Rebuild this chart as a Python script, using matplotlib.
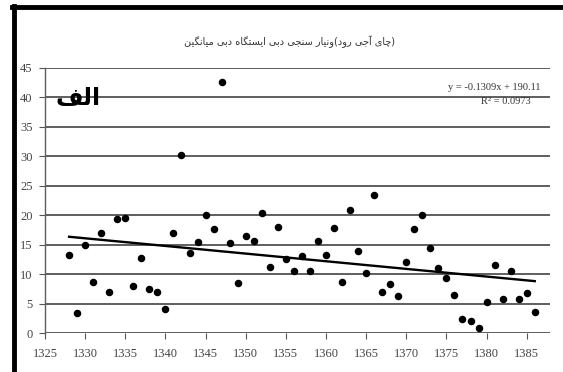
import numpy as np
import matplotlib
matplotlib.use("Agg")
import matplotlib.pyplot as plt
from matplotlib.lines import Line2D

# ---------------- data ----------------
years = list(range(1328, 1387))
flow = [13.2, 3.4, 14.9, 8.6, 16.9, 6.9, 19.4, 19.6, 8.0, 12.7,
        7.5, 7.0, 4.1, 16.9, 30.3, 13.6, 15.4, 20.1, 17.7, 42.7,
        15.2, 8.5, 16.4, 15.6, 20.3, 11.2, 18.0, 12.5, 10.6, 13.1,
        10.6, 15.6, 13.3, 17.9, 8.7, 20.9, 13.9, 10.2, 23.5, 7.0,
        8.3, 6.3, 12.1, 17.6, 20.1, 14.4, 11.0, 9.4, 6.5, 2.4,
        2.1, 0.8, 5.2, 11.5, 5.7, 10.5, 5.8, 6.8, 3.5]
x_ticks = list(range(1325, 1390, 5))
x_tick_labels = [str(t) for t in x_ticks]
y_ticks = list(range(0, 50, 5))
y_tick_labels = [str(t) for t in y_ticks]
title_text = "میانگین دبی ایستگاه دبی سنجی ونیار(رود آجی چای)"
panel_label = "الف"
eq_text = "y = -0.1309x + 190.11"
r2_text = "R² = 0.0973"

# ---------------- minimal Arabic/Persian shaping ----------------
# matplotlib lays glyphs out left to right without shaping, so each word is
# converted to its contextual presentation forms and put in visual order.
FORMS = {
    'ا': ('\uFE8D', '\uFE8E', None, None),
    'آ': ('\uFE81', '\uFE82', None, None),
    'ب': ('\uFE8F', '\uFE90', '\uFE91', '\uFE92'),
    'ت': ('\uFE95', '\uFE96', '\uFE97', '\uFE98'),
    'ج': ('\uFE9D', '\uFE9E', '\uFE9F', '\uFEA0'),
    'چ': ('\uFB7A', '\uFB7B', '\uFB7C', '\uFB7D'),
    'د': ('\uFEA9', '\uFEAA', None, None),
    'ر': ('\uFEAD', '\uFEAE', None, None),
    'س': ('\uFEB1', '\uFEB2', '\uFEB3', '\uFEB4'),
    'ف': ('\uFED1', '\uFED2', '\uFED3', '\uFED4'),
    'گ': ('\uFB92', '\uFB93', '\uFB94', '\uFB95'),
    'ل': ('\uFEDD', '\uFEDE', '\uFEDF', '\uFEE0'),
    'م': ('\uFEE1', '\uFEE2', '\uFEE3', '\uFEE4'),
    'ن': ('\uFEE5', '\uFEE6', '\uFEE7', '\uFEE8'),
    'ه': ('\uFEE9', '\uFEEA', '\uFEEB', '\uFEEC'),
    'و': ('\uFEED', '\uFEEE', None, None),
    'ی': ('\uFBFC', '\uFBFD', '\uFBFE', '\uFBFF'),
}


def shape_word(w):
    out = []
    for i, c in enumerate(w):
        if c not in FORMS:
            out.append(c)
            continue
        prev_j = i > 0 and w[i - 1] in FORMS and FORMS[w[i - 1]][2] is not None
        next_j = (i + 1 < len(w) and w[i + 1] in FORMS and FORMS[c][2] is not None)
        iso, fin, ini, med = FORMS[c]
        if prev_j and next_j:
            out.append(med)
        elif prev_j:
            out.append(fin)
        elif next_j:
            out.append(ini)
        else:
            out.append(iso)
    return ''.join(reversed(out))


def shape_runs(s):
    # each word right-to-left, words kept left-to-right as in the reference
    res, cur = [], ''
    for c in s:
        if c in FORMS:
            cur += c
        else:
            if cur:
                res.append(shape_word(cur))
                cur = ''
            res.append(c)
    if cur:
        res.append(shape_word(cur))
    return ''.join(res)


# ---------------- figure ----------------
fig = plt.figure(figsize=(5.63, 3.72), dpi=100)
fig.patch.set_facecolor('white')
ax = fig.add_axes([45 / 563, 39 / 372, (550 - 45) / 563, (333 - 68) / 372])

ax.set_xlim(1325, 1387.9)
ax.set_ylim(0, 45)

for yv in y_ticks:
    ax.axhline(yv, color='#5e5e5e', lw=1.4, zorder=1)

ax.plot(years, flow, 'o', color='black', markersize=4.4, zorder=3)

coef = np.polyfit(years, flow, 1)
xfit = np.array([years[0], years[-1]])
ax.plot(xfit, np.polyval(coef, xfit), color='black', lw=1.7, zorder=2)

for s in ['top', 'right', 'bottom']:
    ax.spines[s].set_visible(False)
ax.spines['left'].set_color('#5e5e5e')
ax.spines['left'].set_linewidth(1.0)

ax.set_xticks(x_ticks)
ax.set_xticklabels(x_tick_labels)
ax.set_yticks(y_ticks)
ax.set_yticklabels(y_tick_labels)
ax.tick_params(axis='both', labelsize=9, colors='#555555', length=4,
               width=0.8, direction='out')
ax.tick_params(axis='x', pad=7)
ax.tick_params(axis='y', pad=5)
for lbl in ax.get_xticklabels() + ax.get_yticklabels():
    lbl.set_family('Liberation Serif')
    lbl.set_color('#444444')

# title
fig.text(290 / 563, 1 - 42 / 372, shape_runs(title_text), ha='center',
         va='center', fontsize=7, family=['DejaVu Sans'], color='#333333')

# panel label
ax.text(0.02, 0.885, shape_runs(panel_label), transform=ax.transAxes,
        fontsize=17, fontweight='bold', family=['DejaVu Sans'],
        ha='left', va='center', color='black')

# equation
fig.text(541 / 563, 1 - 87 / 372, eq_text, ha='right', va='center',
         fontsize=7.5, family='Liberation Serif', color='#333333')
fig.text(531 / 563, 1 - 101 / 372, r2_text, ha='right', va='center',
         fontsize=7.5, family='Liberation Serif', color='#333333')

# black frame edges (top and left) as in the reference scan
fig.add_artist(Line2D([12 / 563, 1], [1 - 7 / 372, 1 - 7 / 372],
                      transform=fig.transFigure, color='black', lw=3.5))
fig.add_artist(Line2D([14 / 563, 14 / 563], [0, 1 - 6 / 372],
                      transform=fig.transFigure, color='black', lw=3.5))

fig.savefig('out.png', dpi=100, facecolor='white')
